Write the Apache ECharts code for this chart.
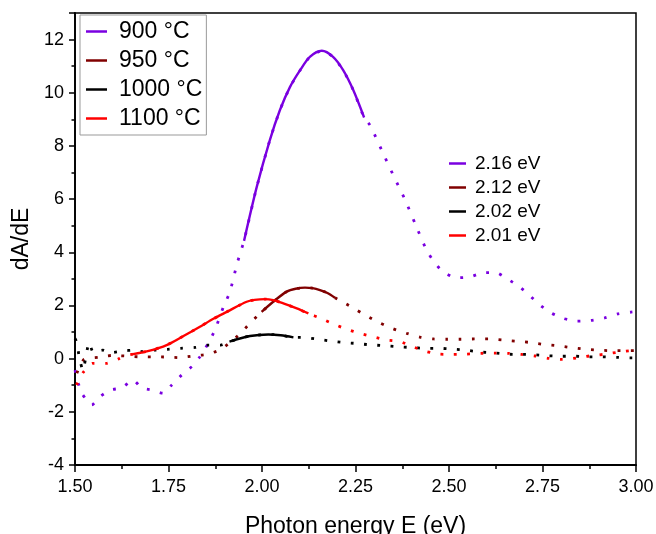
<!DOCTYPE html>
<html>
<head>
<meta charset="utf-8">
<script src="https://cdn.jsdelivr.net/npm/echarts@6/dist/echarts.min.js"></script>
<style>html,body{margin:0;padding:0;background:#fff;}#c{width:656px;height:534px;}</style>
</head>
<body>
<div id="c"></div>
<script>
// ---- data ----
var tempNames = ['900 °C', '950 °C', '1000 °C', '1100 °C'];
var peakNames = ['2.16 eV', '2.12 eV', '2.02 eV', '2.01 eV'];
var colors = ['#7a00e0', '#800000', '#000000', '#ff0000'];
var xTicks = [1.5, 1.75, 2.0, 2.25, 2.5, 2.75, 3.0];

// measured data (dotted)
var e900 = [1.500,1.509,1.518,1.545,1.567,1.594,1.625,1.655,1.678,1.705,1.735,1.758,1.785,1.812,1.834,1.856,1.874,1.897,1.914,1.932,1.942,1.952,1.986,2.021,2.048,2.075,2.102,2.128,2.160,2.190,2.217,2.244,2.273,2.289,2.320,2.351,2.383,2.409,2.440,2.460,2.484,2.519,2.555,2.591,2.625,2.656,2.686,2.714,2.741,2.772,2.806,2.843,2.880,2.916,2.951,2.987,3.000];
var v900 = [-0.43,-0.93,-1.30,-1.74,-1.43,-1.18,-1.10,-0.80,-1.10,-1.18,-1.30,-1.00,-0.62,-0.30,0.07,0.57,1.07,1.95,2.50,3.50,3.98,4.43,6.46,8.22,9.35,10.22,10.85,11.35,11.58,11.35,10.85,10.10,9.07,8.78,7.84,6.90,5.96,5.09,4.08,3.64,3.27,3.04,3.07,3.23,3.24,3.00,2.73,2.40,2.04,1.73,1.51,1.41,1.44,1.53,1.68,1.75,1.77];

var e950 = [1.505,1.524,1.562,1.598,1.634,1.671,1.708,1.745,1.779,1.816,1.852,1.886,1.914,1.941,1.966,1.993,1.999,2.030,2.066,2.090,2.115,2.135,2.155,2.175,2.195,2.220,2.253,2.287,2.317,2.351,2.387,2.422,2.458,2.495,2.532,2.568,2.605,2.642,2.678,2.715,2.751,2.788,2.824,2.861,2.897,2.933,2.971,3.000];
var v950 = [-0.55,-0.03,0.05,0.12,0.10,0.07,0.07,0.06,0.04,0.10,0.16,0.32,0.60,0.93,1.30,1.68,1.76,2.14,2.52,2.63,2.67,2.65,2.58,2.47,2.29,2.10,1.83,1.55,1.33,1.12,0.95,0.81,0.74,0.73,0.73,0.74,0.74,0.70,0.66,0.61,0.54,0.49,0.42,0.36,0.32,0.30,0.30,0.30];

var e1000 = [1.500,1.506,1.511,1.521,1.538,1.549,1.574,1.595,1.629,1.656,1.681,1.712,1.747,1.783,1.821,1.854,1.890,1.913,1.968,2.017,2.050,2.084,2.109,2.144,2.180,2.216,2.253,2.289,2.326,2.363,2.398,2.436,2.473,2.509,2.546,2.581,2.619,2.655,2.692,2.727,2.765,2.801,2.839,2.875,2.911,2.948,2.984,3.000];
var v1000 = [0.76,0.57,0.07,-0.43,0.60,0.24,0.32,0.22,0.29,0.32,0.26,0.32,0.35,0.39,0.42,0.51,0.51,0.64,0.85,0.91,0.88,0.80,0.80,0.74,0.67,0.61,0.57,0.52,0.49,0.45,0.42,0.39,0.39,0.36,0.32,0.25,0.22,0.17,0.16,0.15,0.11,0.09,0.09,0.07,0.07,0.05,0.03,0.03];

var e1100 = [1.504,1.521,1.547,1.583,1.618,1.635,1.652,1.700,1.745,1.790,1.834,1.870,1.906,1.959,1.980,2.008,2.030,2.057,2.093,2.124,2.158,2.191,2.226,2.262,2.298,2.333,2.369,2.403,2.439,2.474,2.511,2.547,2.585,2.621,2.659,2.694,2.731,2.767,2.803,2.840,2.875,2.913,2.950,2.986,3.000];
var v1100 = [-0.99,-0.53,-0.18,-0.18,0.00,0.11,0.16,0.30,0.51,0.85,1.20,1.50,1.76,2.14,2.21,2.24,2.20,2.08,1.89,1.70,1.51,1.30,1.11,0.95,0.82,0.70,0.64,0.45,0.27,0.17,0.16,0.17,0.20,0.21,0.20,0.16,0.10,0.01,-0.03,0.02,0.10,0.16,0.24,0.30,0.32];

// fitted peaks (solid)
var fe900 = [1.952,1.986,2.021,2.048,2.075,2.102,2.128,2.160,2.190,2.217,2.244,2.273];
var fv900 = [4.43,6.46,8.22,9.35,10.22,10.85,11.35,11.58,11.35,10.85,10.10,9.07];
var fe950 = [1.999,2.030,2.066,2.090,2.115,2.135,2.155,2.175,2.195];
var fv950 = [1.76,2.14,2.52,2.63,2.67,2.65,2.58,2.47,2.29];
var fe1000 = [1.913,1.968,2.017,2.050,2.084];
var fv1000 = [0.64,0.85,0.91,0.88,0.80];
var fe1100 = [1.652,1.700,1.745,1.790,1.834,1.870,1.906,1.959,1.980,2.008,2.030,2.057,2.093,2.124];
var fv1100 = [0.16,0.30,0.51,0.85,1.20,1.50,1.76,2.14,2.21,2.24,2.20,2.08,1.89,1.70];

function pairs(es, vs) { return es.map(function (e, i) { return [e, vs[i]]; }); }
var dataE = [e900, e950, e1000, e1100];
var dataV = [v900, v950, v1000, v1100];
var fitE = [fe900, fe950, fe1000, fe1100];
var fitV = [fv900, fv950, fv1000, fv1100];

var series = [];
for (var i = 0; i < 4; i++) {
  series.push({
    name: tempNames[i], type: 'line', data: pairs(dataE[i], dataV[i]),
    showSymbol: false, smooth: 0.2, color: colors[i], z: 2,
    lineStyle: { width: 2.8, type: [2.8, 10.5], cap: 'butt', color: colors[i] }
  });
}
for (var j = 0; j < 4; j++) {
  series.push({
    name: peakNames[j], type: 'line', data: pairs(fitE[j], fitV[j]),
    showSymbol: false, smooth: 0.3, color: colors[j], z: 3,
    lineStyle: { width: 2.4, type: 'solid', color: colors[j] }
  });
}

var font = 'Liberation Sans, Arial, sans-serif';
var chart = echarts.init(document.getElementById('c'));
chart.setOption({
  animation: false,
  backgroundColor: '#fff',
  textStyle: { fontFamily: font },
  grid: { left: 75, top: 13, right: 20, bottom: 69, show: true, borderColor: '#000', borderWidth: 1.5, containLabel: false, outerBoundsMode: 'none' },
  xAxis: {
    type: 'value', min: xTicks[0], max: xTicks[xTicks.length - 1], interval: 0.25,
    name: 'Photon energy E (eV)', nameLocation: 'middle', nameGap: 50,
    nameTextStyle: { fontSize: 23, color: '#000', fontFamily: font },
    axisLine: { show: true, onZero: false, lineStyle: { color: '#000', width: 1.8 } },
    axisTick: { show: true, inside: false, length: 7, lineStyle: { color: '#000', width: 1.5 } },
    minorTick: { show: true, splitNumber: 2, length: 4, lineStyle: { color: '#000', width: 1.5 } },
    axisLabel: { fontSize: 18, color: '#000', margin: 13, fontFamily: font, formatter: function (v) { return v.toFixed(2); } },
    splitLine: { show: false }
  },
  yAxis: [
    {
      type: 'value', min: -4, max: 13, interval: 2,
      name: 'dA/dE', nameLocation: 'middle', nameGap: 40,
      nameTextStyle: { fontSize: 23, color: '#000', fontFamily: font },
      axisLine: { show: true, onZero: false, lineStyle: { color: '#000', width: 1.8 } },
      axisTick: { show: true, inside: false, length: 6, lineStyle: { color: '#000', width: 1.5 } },
      minorTick: { show: false },
      axisLabel: { fontSize: 18, color: '#000', margin: 11, fontFamily: font, formatter: function (v) { return v > 12.5 ? '' : String(v); } },
      splitLine: { show: false }
    },
    {
      type: 'value', min: -4, max: 13, interval: 1, position: 'left',
      axisLine: { show: false, onZero: false },
      axisTick: { show: true, inside: false, length: 3.5, lineStyle: { color: '#000', width: 1.5 } },
      axisLabel: { show: false },
      splitLine: { show: false }
    }
  ],
  legend: [
    {
      data: tempNames, orient: 'vertical', left: 80, top: 15, itemGap: 6,
      icon: 'rect', itemWidth: 21, itemHeight: 2.5,
      backgroundColor: '#fff', borderColor: '#999', borderWidth: 1, padding: [5, 4, 5, 6],
      textStyle: { fontSize: 23, color: '#000', fontFamily: font, padding: [0, 0, 0, 7] }
    },
    {
      data: peakNames, orient: 'vertical', left: 444, top: 149, itemGap: 5,
      icon: 'rect', itemWidth: 17, itemHeight: 2.5,
      textStyle: { fontSize: 19, color: '#000', fontFamily: font, padding: [0, 0, 0, 4] }
    }
  ],
  series: series
});
</script>
</body>
</html>
